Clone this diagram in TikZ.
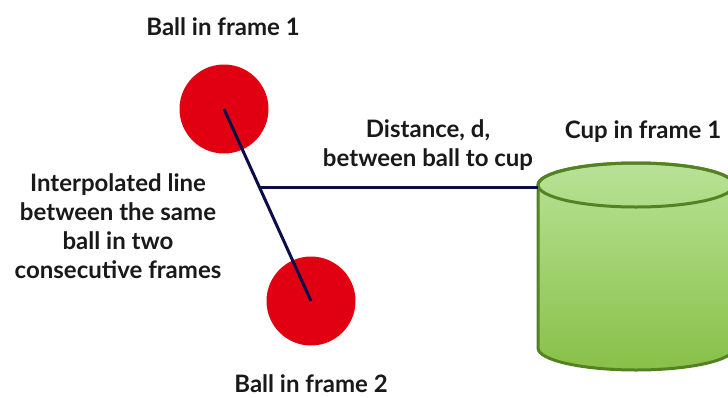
\documentclass[tikz,border=0pt]{standalone}
\usepackage{fontspec}
\setmainfont{Lato}
\usetikzlibrary{positioning, calc}
\definecolor{ballred}{RGB}{224,0,18}
\definecolor{navyline}{RGB}{12,12,72}
\definecolor{cuptop}{RGB}{184,226,150}
\definecolor{cupbot}{RGB}{136,192,72}
\definecolor{cupedge}{RGB}{84,130,35}

\begin{document}
\begin{tikzpicture}[
    x=1pt, y=-1pt,
    ball/.style={circle, fill=ballred, minimum size=89pt, inner sep=0pt},
    lbl/.style={font=\bfseries\fontsize{24}{29}\selectfont, align=center, text=black!90},
    link/.style={draw=navyline, line width=3pt},
]
\useasboundingbox (0,0) rectangle (728,397);
% balls
\node[ball] (ball1) at (224,109) {};
\node[ball] (ball2) at (311,301) {};
% cup
\shade[top color=cuptop, bottom color=cupbot, draw=cupedge, line width=3pt]
  (538,185) -- (538,348) arc[start angle=180, end angle=0, x radius=98, y radius=22]
  -- (734,185) arc[start angle=0, end angle=-180, x radius=98, y radius=22] -- cycle;
\draw[cupedge, line width=3pt] (636,185) ellipse[x radius=98, y radius=22];
\coordinate (cupleft) at (538,186);

\draw[link] (ball1.center) -- (ball2.center);
\coordinate (cross) at ($(ball1.center)!0.41!(ball2.center)$);
\draw[link] (cross) -- (cross -| cupleft);

% labels
\node[lbl] (lbl1) at (223,27) {Ball in frame 1};
\node[lbl] (lbl2) at (311,384) {Ball in frame 2};
\node[lbl] (interp) at (118,226) {Interpolated line\\between the same\\ball in two\\consecutive frames};
\node[lbl] (dist) at (428,145) {Distance, d,\\between ball to cup};
\node[lbl] (cup) at (643,132) {Cup in frame 1};
\end{tikzpicture}
\end{document}
